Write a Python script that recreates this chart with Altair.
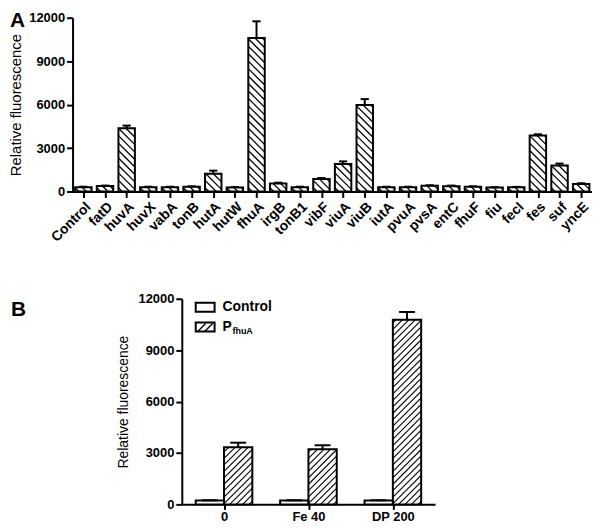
import altair as alt
import pandas as pd

# ---------------- data ----------------
genes = ["Control", "fatD", "huvA", "huvX", "vabA", "tonB", "hutA", "hutW", "fhuA",
         "irgB", "tonB1", "vibF", "viuA", "viuB", "iutA", "pvuA", "pvsA", "entC",
         "fhuF", "fiu", "fecI", "fes", "suf", "yncE"]
a_values = [300, 380, 4370, 300, 300, 330, 1230, 280, 10600, 560, 300, 870, 1900,
            5970, 300, 300, 390, 370, 330, 270, 290, 3860, 1800, 520]
a_errors = [30, 30, 180, 30, 30, 30, 210, 30, 1150, 50, 30, 60, 180, 410, 30, 30,
            40, 40, 30, 30, 30, 90, 130, 50]

conditions = ["0", "Fe 40", "DP 200"]
b_control = [220, 220, 220]
b_control_err = [20, 20, 20]
b_pfhua = [3330, 3220, 10770]
b_pfhua_err = [270, 230, 460]

FONT = "Liberation Sans"

# ---------------- layout ----------------
A_W, A_H = 523, 175
B_W, B_H = 255, 207
A_XDOM = [-0.5, len(genes) - 0.5]
B_XDOM = [-0.5, len(conditions) - 0.5]
YDOM = [0, 12000]


def hatch(xl, xr, top, ppx, ppy, step, direction):
    """diagonal hatch segments inside the bar [xl,xr] x [0,top] (data units)"""
    w = (xr - xl) * ppx
    h = top * ppy
    segs = []
    if direction == "back":  # '\' : y = -x + c
        c = step / 2
        while c < w + h:
            x0, x1 = max(0.0, c - h), min(w, c)
            if x1 > x0:
                segs.append((xl + x0 / ppx, (c - x0) / ppy, xl + x1 / ppx, (c - x1) / ppy))
            c += step
    else:  # '/' : y = x + c
        c = -w + step / 2
        while c < h:
            x0, x1 = max(0.0, -c), min(w, h - c)
            if x1 > x0:
                segs.append((xl + x0 / ppx, (x0 + c) / ppy, xl + x1 / ppx, (x1 + c) / ppy))
            c += step
    return segs


# ---------------- panel A ----------------
a_ppx = A_W / (A_XDOM[1] - A_XDOM[0])
a_ppy = A_H / (YDOM[1] - YDOM[0])
half_a = 0.38
rows = []
hrows = []
for i, (g, v, e) in enumerate(zip(genes, a_values, a_errors)):
    rows.append(dict(gene=g, idx=i, xl=i - half_a, xr=i + half_a, v=v, top=v + e,
                     cl=i - 0.19, cr=i + 0.19))
    for s in hatch(i - half_a, i + half_a, v, a_ppx, a_ppy, 7.5, "back"):
        hrows.append(dict(x1=s[0], y1=s[1], x2=s[2], y2=s[3]))
dfa = pd.DataFrame(rows)
dfa_h = pd.DataFrame(hrows)

xa = alt.Scale(domain=A_XDOM, nice=False, zero=False)
ya = alt.Scale(domain=YDOM, nice=False)
label_expr_a = "[" + ",".join("'" + g + "'" for g in genes) + "][datum.value]"

xaxis_a = alt.Axis(values=list(range(len(genes))), labelExpr=label_expr_a, labelAngle=-45,
                   labelFontSize=14, title=None, labelPadding=2, labelOverlap=False,
                   labelBound=False, labelFlush=False)
yaxis_a = alt.Axis(values=[0, 3000, 6000, 9000, 12000], format="d", labelFontSize=13,
                   title="Relative fluorescence", titleFontSize=15, titleFontWeight="normal",
                   titlePadding=5, labelOverlap=False)


def xA(f):
    return alt.X(f, scale=xa, axis=xaxis_a)


def yA(f):
    return alt.Y(f, scale=ya, axis=yaxis_a)


base_a = alt.Chart(dfa)
bars_a = base_a.mark_rect(fill="white", stroke=None).encode(
    x=xA("xl:Q"), x2="xr:Q", y=yA("v:Q"), y2=alt.datum(0))
hatch_a = alt.Chart(dfa_h).mark_rule(color="black", strokeWidth=1.3).encode(
    x=xA("x1:Q"), x2="x2:Q", y=yA("y1:Q"), y2="y2:Q")
outline_a = base_a.mark_rect(fillOpacity=0, stroke="black", strokeWidth=2).encode(
    x=xA("xl:Q"), x2="xr:Q", y=yA("v:Q"), y2=alt.datum(0))
err_a = base_a.mark_rule(color="black", strokeWidth=2).encode(
    x=xA("idx:Q"), y=yA("v:Q"), y2="top:Q")
cap_a = base_a.mark_rule(color="black", strokeWidth=2).encode(
    x=xA("cl:Q"), x2="cr:Q", y=yA("top:Q"))
label_a = alt.Chart(pd.DataFrame({"t": ["A"]})).mark_text(
    font=FONT, fontSize=21, fontWeight="bold", align="left", baseline="top", color="black"
).encode(text="t:N", x=alt.value(-63), y=alt.value(-8))

panel_a = alt.layer(bars_a, hatch_a, outline_a, err_a, cap_a, label_a).properties(
    width=A_W, height=A_H)

# ---------------- panel B ----------------
b_ppx = B_W / (B_XDOM[1] - B_XDOM[0])
b_ppy = B_H / (YDOM[1] - YDOM[0])
bw = 28.5 / b_ppx
rows_b = []
hrows_b = []
for i, c in enumerate(conditions):
    rows_b.append(dict(xl=i - bw, xr=i, v=b_control[i], top=b_control[i] + b_control_err[i],
                       xc=i - bw / 2))
    rows_b.append(dict(xl=i, xr=i + bw, v=b_pfhua[i], top=b_pfhua[i] + b_pfhua_err[i],
                       xc=i + bw / 2))
    for s in hatch(i, i + bw, b_pfhua[i], b_ppx, b_ppy, 6.5, "fwd"):
        hrows_b.append(dict(x1=s[0], y1=s[1], x2=s[2], y2=s[3]))
dfb = pd.DataFrame(rows_b)
dfb["cl"] = dfb["xc"] - 8 / b_ppx
dfb["cr"] = dfb["xc"] + 8 / b_ppx
dfb_h = pd.DataFrame(hrows_b)

xb = alt.Scale(domain=B_XDOM, nice=False, zero=False)
yb = alt.Scale(domain=YDOM, nice=False)
label_expr_b = "[" + ",".join("'" + c + "'" for c in conditions) + "][datum.value]"
xaxis_b = alt.Axis(values=list(range(len(conditions))), labelExpr=label_expr_b, labelAngle=0,
                   labelFontSize=13, title=None, labelPadding=1, labelOverlap=False,
                   tickSize=5)
yaxis_b = alt.Axis(values=[0, 3000, 6000, 9000, 12000], format="d", labelFontSize=13,
                   title="Relative fluorescence", titleFontSize=14, titleFontWeight="normal",
                   titlePadding=8, labelOverlap=False)


def xB(f):
    return alt.X(f, scale=xb, axis=xaxis_b)


def yB(f):
    return alt.Y(f, scale=yb, axis=yaxis_b)


base_b = alt.Chart(dfb)
bars_b = base_b.mark_rect(fill="white", stroke=None).encode(
    x=xB("xl:Q"), x2="xr:Q", y=yB("v:Q"), y2=alt.datum(0))
hatch_b = alt.Chart(dfb_h).mark_rule(color="black", strokeWidth=1.1).encode(
    x=xB("x1:Q"), x2="x2:Q", y=yB("y1:Q"), y2="y2:Q")
outline_b = base_b.mark_rect(fillOpacity=0, stroke="black", strokeWidth=2).encode(
    x=xB("xl:Q"), x2="xr:Q", y=yB("v:Q"), y2=alt.datum(0))
err_b = base_b.mark_rule(color="black", strokeWidth=2).encode(
    x=xB("xc:Q"), y=yB("v:Q"), y2="top:Q")
cap_b = base_b.mark_rule(color="black", strokeWidth=2).encode(
    x=xB("cl:Q"), x2="cr:Q", y=yB("top:Q"))

one = pd.DataFrame({"t": ["B"]})

# manual legend
leg_box1 = alt.Chart(one).mark_rect(fill="white", stroke="black", strokeWidth=2).encode(
    x=alt.value(14), x2=alt.value(33), y=alt.value(4), y2=alt.value(13))
leg_box2 = alt.Chart(one).mark_rect(fill="white", stroke="black", strokeWidth=2).encode(
    x=alt.value(14), x2=alt.value(33), y=alt.value(24), y2=alt.value(33))
leg_h1 = alt.Chart(one).mark_rule(color="black", strokeWidth=1.4).encode(
    x=alt.value(16), x2=alt.value(24), y=alt.value(33), y2=alt.value(25))
leg_h2 = alt.Chart(one).mark_rule(color="black", strokeWidth=1.4).encode(
    x=alt.value(23), x2=alt.value(31), y=alt.value(33), y2=alt.value(25))
leg_t1 = alt.Chart(pd.DataFrame({"t": ["Control"]})).mark_text(
    font=FONT, fontSize=14, fontWeight="bold", align="left", baseline="middle", color="black"
).encode(text="t:N", x=alt.value(41), y=alt.value(8))
leg_t2 = alt.Chart(pd.DataFrame({"t": ["P"]})).mark_text(
    font=FONT, fontSize=14, fontWeight="bold", align="left", baseline="middle", color="black"
).encode(text="t:N", x=alt.value(41), y=alt.value(28))
leg_t3 = alt.Chart(pd.DataFrame({"t": ["fhuA"]})).mark_text(
    font=FONT, fontSize=9, fontWeight="bold", align="left", baseline="middle", color="black"
).encode(text="t:N", x=alt.value(51), y=alt.value(32))

panel_b = alt.layer(bars_b, hatch_b, outline_b, err_b, cap_b,
                    leg_box1, leg_box2, leg_h1, leg_h2, leg_t1, leg_t2, leg_t3).properties(
    width=B_W, height=B_H)

# spacer column carrying the "B" panel letter
spacer_b = alt.Chart(one).mark_text(
    font=FONT, fontSize=21, fontWeight="bold", align="left", baseline="top", color="black"
).encode(text="t:N", x=alt.value(-62), y=alt.value(0)).properties(width=43, height=B_H)

row_b = alt.hconcat(spacer_b, panel_b, spacing=0)

chart = alt.vconcat(panel_a, row_b, spacing=48).properties(
    padding=0
).configure_view(
    stroke=None
).configure_axis(
    domainColor="black", domainWidth=2, tickColor="black", tickWidth=2, tickSize=6,
    labelColor="black", labelFont=FONT, labelFontWeight="bold", titleFont=FONT,
    titleColor="black", grid=False, labelOverlap=False
)

chart.save("out.html", embed_options={"renderer": "svg", "actions": False})
